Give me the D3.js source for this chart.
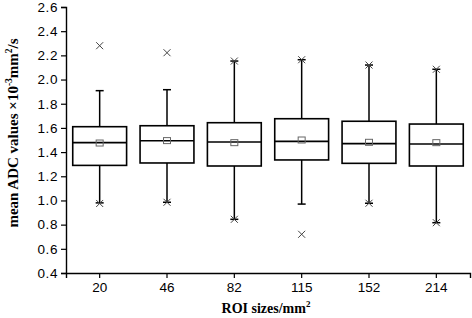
<!DOCTYPE html>
<html>
<head>
<meta charset="utf-8">
<script src="https://cdn.jsdelivr.net/npm/d3@7"></script>
<style>
  body { margin: 0; background: #fff; }
  svg { display: block; }
</style>
</head>
<body>
<svg width="472" height="318"></svg>
<script>
const width = 472, height = 318;
const marginTop = 7, marginRight = 2, marginBottom = 45, marginLeft = 66;
const svg = d3.select("svg");

// box data
const sizes = ["20", "46", "82", "115", "152", "214"];
const q1 = [1.29, 1.31, 1.285, 1.335, 1.307, 1.285];
const q3 = [1.61, 1.618, 1.643, 1.676, 1.655, 1.632];
const medians = [1.478, 1.494, 1.483, 1.489, 1.47, 1.467];
const means = [1.475, 1.495, 1.478, 1.50, 1.481, 1.478];
const whiskerLow = [0.98, 0.985, 0.844, 0.97, 0.977, 0.816];
const whiskerHigh = [1.908, 1.916, 2.153, 2.164, 2.12, 2.085];
const minVals = [0.975, 0.985, 0.844, 0.72, 0.977, 0.816];
const maxVals = [2.28, 2.222, 2.153, 2.164, 2.12, 2.085];
const yTicks = [0.4, 0.6, 0.8, 1.0, 1.2, 1.4, 1.6, 1.8, 2.0, 2.2, 2.4, 2.6];

const xScale = d3.scaleBand()
    .domain(sizes)
    .range([marginLeft, width - marginRight])
    .padding(0);

const yScale = d3.scaleLinear()
    .domain([0.4, 2.6])
    .range([height - marginBottom, marginTop]);

// axes
const xAxis = svg.append("g")
    .attr("transform", `translate(0, ${height - marginBottom})`)
    .call(d3.axisBottom(xScale).tickSizeOuter(0).tickSize(5).tickPadding(4));

const yAxis = svg.append("g")
    .attr("transform", `translate(${marginLeft}, 0)`)
    .call(d3.axisLeft(yScale).tickValues(yTicks).tickFormat(d3.format(".1f"))
        .tickSizeOuter(0).tickSize(5).tickPadding(3));

[xAxis, yAxis].forEach(g => {
    g.select(".domain").attr("stroke", "#000").attr("stroke-width", 1.4);
    g.selectAll(".tick line").attr("stroke", "#000").attr("stroke-width", 1.2);
    g.selectAll(".tick text")
        .attr("fill", "#000")
        .style("font-family", "'Liberation Sans', Arial, sans-serif")
        .style("font-size", "13.5px");
});
yAxis.selectAll(".tick text").style("letter-spacing", "0.6px");

// axis titles
svg.append("text")
    .attr("x", 266)
    .attr("y", 313)
    .attr("text-anchor", "middle")
    .style("font-family", "'Liberation Serif', 'Times New Roman', serif")
    .style("font-weight", "bold")
    .style("font-size", "14px")
    .html('ROI sizes/mm<tspan dy="-6" font-size="9px">2</tspan>');

svg.append("text")
    .attr("transform", "rotate(-90)")
    .attr("x", -133)
    .attr("y", 18)
    .attr("text-anchor", "middle")
    .style("font-family", "'Liberation Serif', 'Times New Roman', serif")
    .style("font-weight", "bold")
    .style("font-size", "15px")
    .html('mean ADC values \u00d710<tspan dy="-6" font-size="9.5px">-3</tspan><tspan dy="6">mm</tspan><tspan dy="-6" font-size="9.5px">2</tspan><tspan dy="6">/s</tspan>');

// boxes
const boxW = xScale.bandwidth() * 0.8;
const capW = 8;
const plot = svg.append("g");

sizes.forEach((s, i) => {
    const cx = xScale(s) + xScale.bandwidth() / 2;
    const g = plot.append("g");

    // whiskers
    g.append("line")
        .attr("x1", cx).attr("x2", cx)
        .attr("y1", yScale(q3[i])).attr("y2", yScale(whiskerHigh[i]))
        .attr("stroke", "#000").attr("stroke-width", 1.5);
    g.append("line")
        .attr("x1", cx).attr("x2", cx)
        .attr("y1", yScale(q1[i])).attr("y2", yScale(whiskerLow[i]))
        .attr("stroke", "#000").attr("stroke-width", 1.5);
    [whiskerHigh[i], whiskerLow[i]].forEach(v => {
        g.append("line")
            .attr("x1", cx - capW / 2).attr("x2", cx + capW / 2)
            .attr("y1", yScale(v)).attr("y2", yScale(v))
            .attr("stroke", "#000").attr("stroke-width", 1.5);
    });

    // box
    g.append("rect")
        .attr("x", cx - boxW / 2)
        .attr("y", yScale(q3[i]))
        .attr("width", boxW)
        .attr("height", yScale(q1[i]) - yScale(q3[i]))
        .attr("fill", "none")
        .attr("stroke", "#000")
        .attr("stroke-width", 1.6);

    g.append("line")
        .attr("x1", cx - boxW / 2).attr("x2", cx + boxW / 2)
        .attr("y1", yScale(medians[i])).attr("y2", yScale(medians[i]))
        .attr("stroke", "#000").attr("stroke-width", 1.6);

    // mean marker
    g.append("rect")
        .attr("x", cx - 3.5).attr("y", yScale(means[i]) - 3)
        .attr("width", 7).attr("height", 6)
        .attr("fill", "none")
        .attr("stroke", "#666")
        .attr("stroke-width", 1);

    // min / max crosses
    [minVals[i], maxVals[i]].forEach(v => {
        const y = yScale(v);
        g.append("path")
            .attr("d", `M${cx - 3.5},${y - 3.5}L${cx + 3.5},${y + 3.5}M${cx - 3.5},${y + 3.5}L${cx + 3.5},${y - 3.5}`)
            .attr("stroke", "#444")
            .attr("stroke-width", 1);
    });
});
</script>
</body>
</html>
